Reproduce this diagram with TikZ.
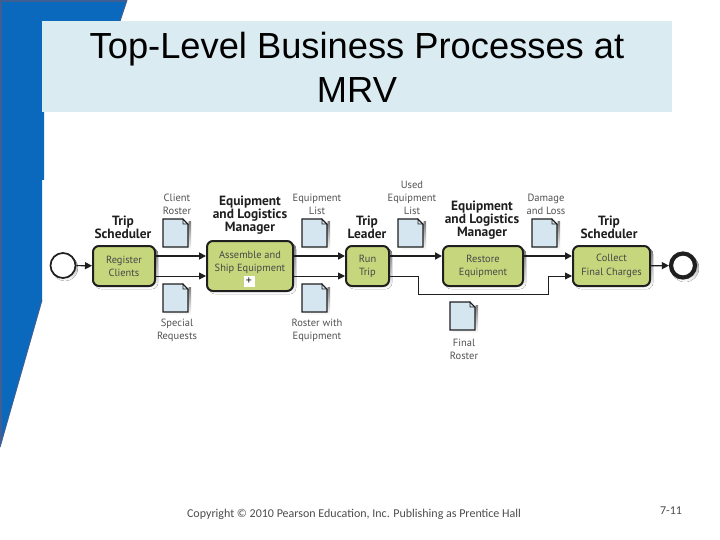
\documentclass[tikz,border=0pt]{standalone}
\usepackage{fontspec}
\setmainfont{Liberation Sans}
\newfontfamily\diag{PT Sans}
\newfontfamily\foot{Carlito}
\usetikzlibrary{arrows.meta}
\definecolor{bluebar}{HTML}{0A69BC}
\definecolor{bluedark}{HTML}{3E5F94}
\definecolor{titlebg}{HTML}{DAEBF2}
\definecolor{docfill}{HTML}{D6E6F0}
\definecolor{taskfill}{HTML}{C6D67C}
\definecolor{ink}{HTML}{1F1F1F}
\definecolor{shade}{HTML}{CFCFCF}
\tikzset{
  x=1pt,y=-1pt,
  taskbox/.style={draw=ink,line width=2pt,fill=taskfill,rounded corners=6pt,align=center,
    inner sep=0pt,text=black!72,font=\diag\fontsize{10.4}{13.2}\selectfont},
  rolelabel/.style={align=center,inner sep=0pt,text=ink,font=\diag\bfseries\fontsize{13.4}{13}\selectfont},
  doclabel/.style={align=center,inner sep=0pt,text=black!68,font=\diag\fontsize{10.5}{13}\selectfont},
  flowthick/.style={draw=ink,line width=1.7pt,-{Triangle[length=7pt,width=7pt]}},
  flowthin/.style={draw=ink,line width=.9pt,-{Triangle[length=7pt,width=7pt]}},
  docsheet/.style={draw=ink,line width=1.2pt,fill=docfill,line join=miter},
}
% name, left x, top y
\newcommand{\docat}[3]{%
  \fill[shade] (#2+3,#3+3) rectangle (#2+28,#3+31);
  \draw[docsheet] (#2,#3) -- (#2+20,#3) -- (#2+25,#3+5) -- (#2+25,#3+28) -- (#2,#3+28) -- cycle;
  \fill[white] (#2+20,#3-.5) -- (#2+25.5,#3-.5) -- (#2+25.5,#3+5) -- cycle;
  \draw[draw=ink,line width=.8pt] (#2+20,#3) -- (#2+20,#3+5) -- (#2+25,#3+5) -- cycle;
  \node[minimum width=25pt,minimum height=28pt,inner sep=0pt] (#1) at (#2+12.5,#3+14) {};
}
\newcommand{\tasknode}[6]{%
  \fill[shade,rounded corners=6pt] (#2+2,#3+2) rectangle (#4+3,#5+3);
  \node[taskbox,minimum width=#4pt-#2pt,minimum height=#5pt-#3pt] (#1) at ({(#2+#4)/2},{(#3+#5)/2}) {#6};
}
\begin{document}
\begin{tikzpicture}
\useasboundingbox (0,0) rectangle (720,540);
\fill[white] (0,0) rectangle (720,540);
% side band
\fill[bluebar] (0,0) -- (127,0) -- (120,21) -- (42,21) -- (42,112) -- (44,112) -- (44,180) -- (42,180) -- (42,300) -- (0,447) -- cycle;
\fill[bluedark] (0,0) -- (127,0) -- (126.3,2) -- (2,2) -- (2,441) -- (0,447) -- cycle;
\draw[bluedark,line width=1pt] (42,300) -- (0,447);
\draw[bluedark,line width=1pt] (127,0) -- (120,21);
% title
\node[fill=titlebg,minimum width=630pt,minimum height=91pt,inner sep=0pt] (band) at (357,66.5) {};
\node[align=center,inner sep=0pt,font=\fontsize{36.3}{44}\selectfont,text=black] (title) at (357,67) {Top-Level Business Processes at\\MRV};
% events
\fill[shade] (65,268) circle (13);
\node[circle,draw=ink,line width=1.7pt,fill=white,minimum size=25pt,inner sep=0pt] (start) at (63,265.5) {};
\fill[shade] (685,268) circle (14);
\node[circle,draw=ink,line width=4.2pt,fill=white,minimum size=24pt,inner sep=0pt] (stop) at (683,265.5) {};
% tasks
\tasknode{reg}{93}{246}{155}{286}{Register\\Clients}
\tasknode{asm}{207}{241}{293}{291}{Assemble and\\Ship Equipment\\[-4pt]\phantom{+}}
\tasknode{run}{346}{246}{389}{286}{Run\\Trip}
\tasknode{res}{443}{246}{523}{286}{Restore\\Equipment}
\tasknode{col}{573}{246}{650}{286}{Collect\\Final Charges}
\node[fill=white,draw=none,minimum size=11pt,inner sep=0pt,font=\diag\fontsize{12}{12}\selectfont,text=ink] (plus) at (249,281) {+};
% documents
\docat{d1}{163}{219}
\docat{d2}{302}{219}
\docat{d3}{163}{284}
\docat{d4}{302}{284}
\docat{d5}{398}{219}
\docat{d6}{532}{219}
\docat{d7}{450}{302}
% connectors
\coordinate (low1) at (418,294);
\coordinate (low2) at (548,294);
\draw[flowthick,line width=1.2pt] (start) -- (reg);
\draw[flowthick] ([yshift=10pt]reg.east) -- ([yshift=10pt]asm.west);
\draw[flowthin] ([yshift=-10pt]reg.east) -- ([yshift=-10pt]asm.west);
\draw[flowthick] ([yshift=10pt]asm.east) -- ([yshift=10pt]run.west);
\draw[flowthin] ([yshift=-10pt]asm.east) -- ([yshift=-10pt]run.west);
\draw[flowthick] ([yshift=10pt]run.east) -- ([yshift=10pt]res.west);
\draw[flowthick] ([yshift=10pt]res.east) -- ([yshift=10pt]col.west);
\draw[flowthin] ([yshift=-10pt]run.east) -| (low1) -- (low2) |- ([yshift=-10pt]col.west);
\draw[flowthick,line width=1.2pt] (col) -- (stop);
% roles
\node[rolelabel] (r1) at (123,227) {Trip\\Scheduler};
\node[rolelabel] (r2) at (250,215.5) {Equipment\\and Logistics\\Manager};
\node[rolelabel] (r3) at (367,227) {Trip\\Leader};
\node[rolelabel] (r4) at (482,220) {Equipment\\and Logistics\\Manager};
\node[rolelabel] (r5) at (609,227) {Trip\\Scheduler};
% captions
\node[doclabel] (c1) at (177,204.5) {Client\\Roster};
\node[doclabel] (c2) at (317,204.5) {Equipment\\List};
\node[doclabel] (c3) at (177,330) {Special\\Requests};
\node[doclabel] (c4) at (317,330) {Roster with\\Equipment};
\node[doclabel] (c5) at (412,198) {Used\\Equipment\\List};
\node[doclabel] (c6) at (546,204.5) {Damage\\and Loss};
\node[doclabel] (c7) at (464,349) {Final\\Roster};
% footer
\node[inner sep=0pt,text=black!70,font=\foot\fontsize{12}{14}\selectfont] (copy) at (354,514) {Copyright © 2010 Pearson Education, Inc. Publishing as Prentice Hall};
\node[inner sep=0pt,text=black!70,font=\foot\fontsize{12}{14}\selectfont] (page) at (671,511) {7-11};
\end{tikzpicture}
\end{document}
